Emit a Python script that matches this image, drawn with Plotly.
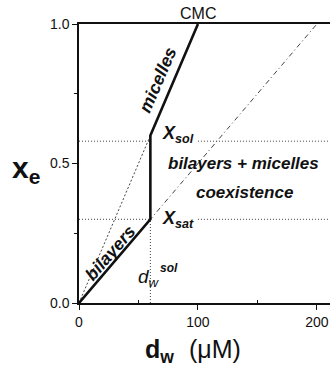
import plotly.graph_objects as go

# Phase boundary: bilayers -> saturation -> solubilisation -> micelles (CMC)
phase_dw = [0, 60, 60, 100]
phase_xe = [0.0, 0.3, 0.6, 1.0]

# Extensions of the bilayer and micelle branches
bilayer_ext_dw = [0, 200]
bilayer_ext_xe = [0.0, 1.0]
micelle_ext_dw = [0, 60]
micelle_ext_xe = [0.0, 0.6]

# Reference levels
x_sat = 0.3
x_sol = 0.58
dw_sol = 60
cmc = 100
x_max = 211

x_ticks = [0, 100, 200]
y_ticks = [0.0, 0.5, 1.0]
y_tick_text = ["0.0", "0.5", "1.0"]

FONT = "Arial, Liberation Sans, Helvetica, sans-serif"
INK = "#111111"
DOT = "#444444"

fig = go.Figure()

dotted = dict(color=DOT, width=1, dash="1px,2px")

# horizontal guides at x_sol and x_sat (left and right pieces)
for lvl in (x_sol, x_sat):
    fig.add_trace(go.Scatter(x=[0, dw_sol], y=[lvl, lvl], mode="lines",
                             line=dotted, hoverinfo="skip"))
    fig.add_trace(go.Scatter(x=[cmc, x_max], y=[lvl, lvl], mode="lines",
                             line=dotted, hoverinfo="skip"))

# vertical guide at d_w^sol
fig.add_trace(go.Scatter(x=[dw_sol, dw_sol], y=[0, x_sat], mode="lines",
                         line=dotted, hoverinfo="skip"))

# micelle branch extension
fig.add_trace(go.Scatter(x=micelle_ext_dw, y=micelle_ext_xe, mode="lines",
                         line=dict(color=DOT, width=1, dash="2px,2px"),
                         hoverinfo="skip"))

# bilayer branch extension
fig.add_trace(go.Scatter(x=bilayer_ext_dw, y=bilayer_ext_xe, mode="lines",
                         line=dict(color=DOT, width=1, dash="5px,3px,1px,3px"),
                         hoverinfo="skip"))

# phase boundary
fig.add_trace(go.Scatter(x=phase_dw, y=phase_xe, mode="lines",
                         line=dict(color=INK, width=2.6), hoverinfo="skip"))


def label(x, y, text, size, angle=0, xanchor="center", yanchor="middle",
          xref="x", yref="y"):
    fig.add_annotation(x=x, y=y, xref=xref, yref=yref, text=text,
                       showarrow=False, textangle=angle,
                       xanchor=xanchor, yanchor=yanchor,
                       font=dict(family=FONT, size=size, color=INK))


label(cmc, 1.0, "CMC", 16, yanchor="bottom")
label(66, 0.80, "<b><i>micelles</i></b>", 17.5, angle=-66.8)
label(26, 0.18, "<b><i>bilayers</i></b>", 17.5, angle=-48.8)
label(68, 0.605, "<b><i>X</i></b><sub><b><i>sol</i></b></sub>", 18,
      xanchor="left")
label(68, 0.30, "<b><i>X</i></b><sub><b><i>sat</i></b></sub>", 18,
      xanchor="left")
label(138, 0.50, "<b><i>bilayers + micelles</i></b>", 17)
label(139, 0.395, "<b><i>coexistence</i></b>", 17)
label(47.5, 0.09, "<i>d</i><sub><i>w</i></sub>", 19, xanchor="left")
label(66, 0.124, "<b><i>sol</i></b>", 12, xanchor="left")

# axis titles
label(-0.275, 0.48, "<b>x<sub>e</sub></b>", 30, xanchor="left",
      xref="paper", yref="paper")
label(0.255, -0.108, "<b>d<sub>w</sub></b>", 25, xanchor="left",
      yanchor="top", xref="paper", yref="paper")
label(0.43, -0.106, "(μM)", 25, xanchor="left", yanchor="top",
      xref="paper", yref="paper")

fig.update_xaxes(range=[0, x_max], tickvals=x_ticks, ticks="outside",
                 ticklen=5, tickwidth=1, tickcolor=INK,
                 showline=True, linecolor=INK, linewidth=1.5, mirror=True,
                 showgrid=False, zeroline=False,
                 minor=dict(tickvals=[50, 150], ticks="inside", ticklen=3,
                            tickcolor=INK, showgrid=False),
                 tickfont=dict(family=FONT, size=14, color=INK))
fig.update_yaxes(range=[0, 1], tickvals=y_ticks, ticktext=y_tick_text,
                 ticks="outside", ticklen=5, tickwidth=1, tickcolor=INK,
                 showline=True, linecolor=INK, linewidth=1.5,
                 showgrid=False, zeroline=False,
                 minor=dict(tickvals=[0.25, 0.75], ticks="outside", ticklen=3,
                            tickcolor=INK, showgrid=False),
                 tickfont=dict(family=FONT, size=14, color=INK))

fig.update_layout(width=332, height=373, showlegend=False,
                  margin=dict(l=79, r=2, t=24, b=70),
                  paper_bgcolor="white", plot_bgcolor="white")

fig.write_html("out.html")
